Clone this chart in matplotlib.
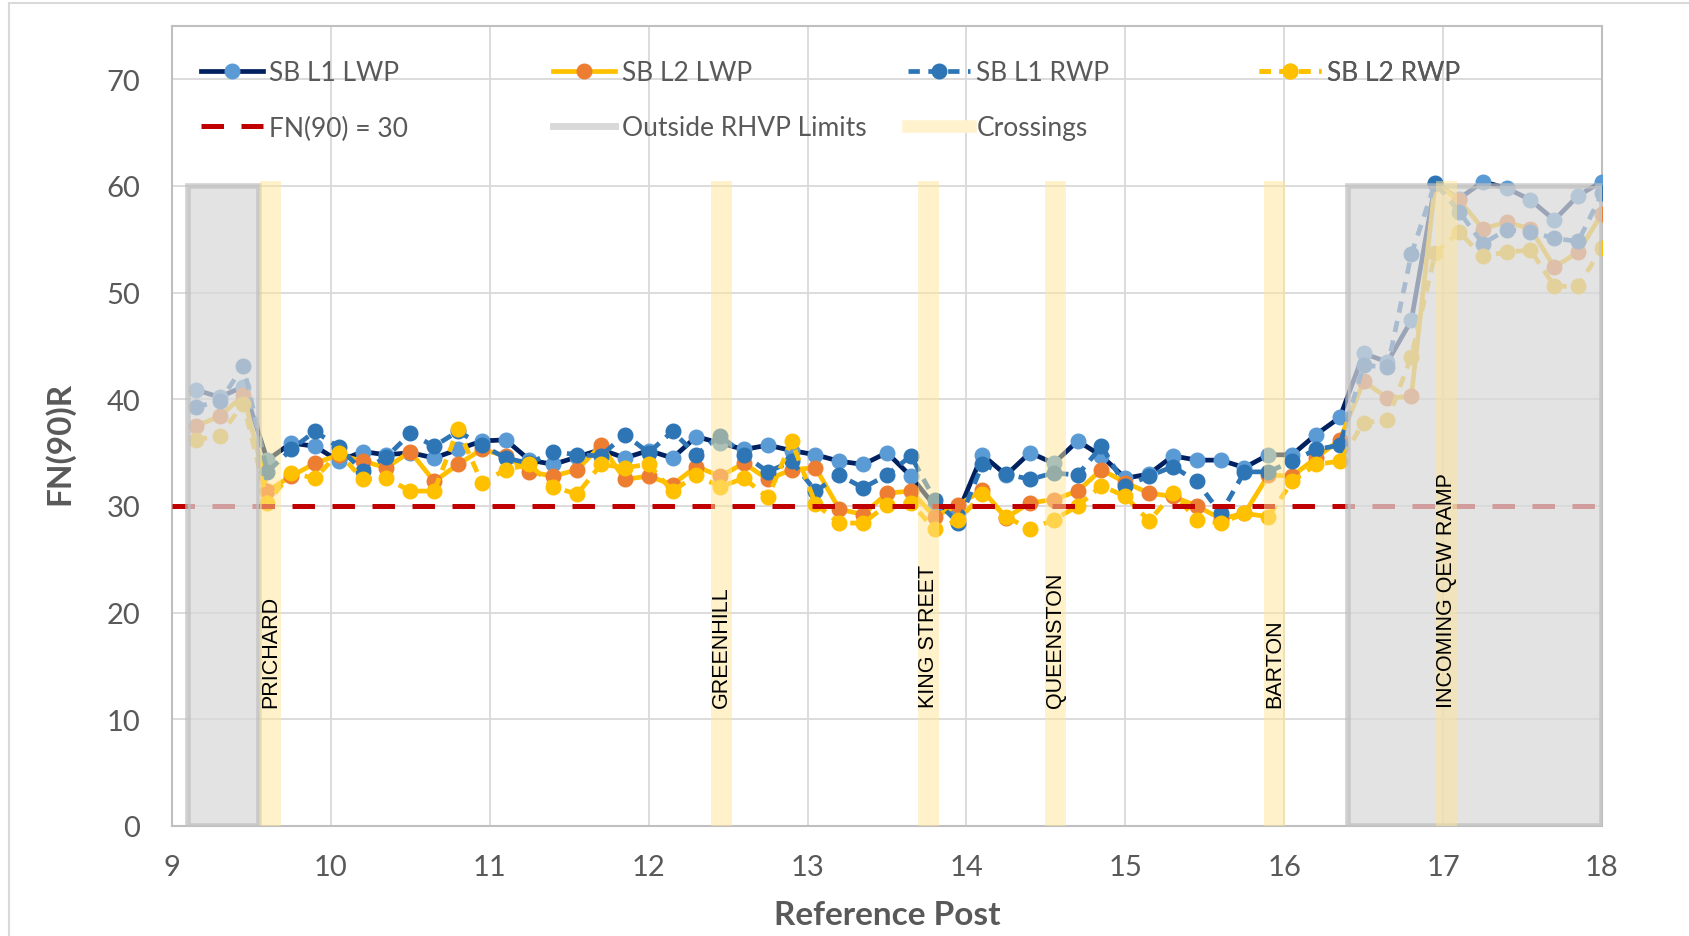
import matplotlib
matplotlib.use("Agg")
import matplotlib.pyplot as plt
from matplotlib.lines import Line2D
from matplotlib.patches import Rectangle

# reference posts of the survey points
ref_post = [9.15, 9.30, 9.45, 9.60, 9.75, 9.90, 10.05, 10.20, 10.35, 10.50,
            10.65, 10.80, 10.95, 11.10, 11.25, 11.40, 11.55, 11.70, 11.85, 12.00,
            12.15, 12.30, 12.45, 12.60, 12.75, 12.90, 13.05, 13.20, 13.35, 13.50,
            13.65, 13.80, 13.95, 14.10, 14.25, 14.40, 14.55, 14.70, 14.85, 15.00,
            15.15, 15.30, 15.45, 15.60, 15.75, 15.90, 16.05, 16.20, 16.35, 16.50,
            16.65, 16.80, 16.95, 17.10, 17.25, 17.40, 17.55, 17.70, 17.85, 18.00]

sb_l1_lwp = [40.9, 40.2, 41.2, 34.3, 35.9, 35.6, 34.2, 35.1, 34.8, 35.0,
             34.5, 35.3, 36.1, 36.2, 34.3, 33.9, 34.6, 35.3, 34.5, 35.2,
             34.5, 36.5, 35.9, 35.3, 35.7, 35.2, 34.8, 34.2, 33.9, 35.0,
             32.8, 30.0, 29.5, 34.8, 32.9, 35.0, 34.0, 36.1, 34.7, 32.6,
             33.0, 34.7, 34.3, 34.3, 33.6, 34.8, 34.8, 36.7, 38.3, 44.3,
             43.5, 47.4, 60.2, 58.8, 60.4, 59.8, 58.7, 56.8, 59.1, 60.4]

sb_l2_lwp = [37.5, 38.4, 40.4, 31.4, 32.8, 34.0, 34.8, 34.2, 33.6, 35.1,
             32.3, 33.9, 35.3, 34.7, 33.2, 32.8, 33.4, 35.7, 32.5, 32.8,
             32.0, 33.7, 32.8, 34.0, 32.5, 33.4, 33.6, 29.7, 29.2, 31.2,
             31.4, 29.0, 30.1, 31.5, 28.9, 30.3, 30.6, 31.4, 33.4, 32.2,
             31.2, 30.9, 30.0, 28.8, 29.3, 32.9, 32.8, 34.5, 36.2, 41.7,
             40.1, 40.3, 60.2, 58.7, 56.0, 56.6, 56.0, 52.4, 53.8, 57.4]

sb_l1_rwp = [39.3, 39.8, 43.1, 33.2, 35.3, 37.0, 35.5, 33.3, 34.6, 36.8,
             35.6, 37.0, 35.7, 34.5, 34.0, 35.1, 34.8, 34.7, 36.7, 35.0,
             37.0, 34.8, 36.6, 34.8, 33.2, 34.2, 31.4, 32.9, 31.7, 32.9,
             34.7, 30.6, 28.4, 33.9, 33.0, 32.5, 33.1, 32.9, 35.6, 31.9,
             32.8, 33.7, 32.3, 29.3, 33.2, 33.2, 34.2, 35.3, 35.7, 43.2,
             43.0, 53.6, 60.3, 57.6, 54.6, 55.9, 55.7, 55.1, 54.8, 59.3]

sb_l2_rwp = [36.2, 36.6, 39.6, 30.3, 33.1, 32.6, 35.0, 32.5, 32.6, 31.4,
             31.4, 37.2, 32.2, 33.4, 33.9, 31.8, 31.1, 33.9, 33.6, 33.9,
             31.4, 32.9, 31.8, 32.6, 30.8, 36.1, 30.2, 28.4, 28.4, 30.1,
             30.3, 27.8, 28.7, 31.1, 29.0, 27.8, 28.7, 30.0, 31.9, 30.9,
             28.6, 31.2, 28.7, 28.4, 29.3, 29.0, 32.3, 33.9, 34.2, 37.8,
             38.1, 44.0, 53.7, 55.7, 53.4, 53.8, 54.0, 50.6, 50.6, 54.2]

fn_target = 30

# stretches outside the RHVP limits (start, end)
outside_limits = [(9.10, 9.55), (16.40, 18.00)]

crossing_names = ["PRICHARD", "GREENHILL", "KING STREET", "QUEENSTON",
                  "BARTON", "INCOMING QEW RAMP"]
crossing_posts = [9.62, 12.46, 13.76, 14.56, 15.94, 17.02]

grey_txt = "#595959"
font = "Lato"

fig = plt.figure(figsize=(16.9, 9.37), dpi=100)
ax = fig.add_axes([172 / 1690, 1 - 827 / 937, 1430 / 1690, 800 / 937])

lw = 3.4
ms = 10.5
dash = (0, (2.4, 1.8))

ax.plot(ref_post, sb_l1_lwp, color="#002060", lw=lw, marker="o", ms=ms,
        mfc="#5B9BD5", mec="#5B9BD5", zorder=3)
ax.plot(ref_post, sb_l2_lwp, color="#FFC000", lw=lw, marker="o", ms=ms,
        mfc="#ED7D31", mec="#ED7D31", zorder=3)
ax.plot(ref_post, sb_l1_rwp, color="#2E75B6", lw=lw, ls=dash, marker="o", ms=ms,
        mfc="#2E75B6", mec="#2E75B6", zorder=3)
ax.plot(ref_post, sb_l2_rwp, color="#FFC000", lw=lw, ls=dash, marker="o", ms=ms,
        mfc="#FFC000", mec="#FFC000", zorder=3)

ax.axhline(fn_target, color="#C00000", lw=3.6, dashes=(4.5, 3.5), zorder=4)

# shaded stretches sit over the data
for x0, x1 in outside_limits:
    ax.add_patch(Rectangle((x0, 0), x1 - x0, 60, facecolor="#D9D9D9",
                           edgecolor="#BFBFBF", lw=4, alpha=0.72, zorder=5))

ax.bar(crossing_posts, 60.5, width=0.13, color="#FFE699", alpha=0.5, zorder=6)
for name, x in zip(crossing_names, crossing_posts):
    ax.text(x, 11.2, name, rotation=90, ha="center", va="bottom",
            fontsize=15.5, family="Liberation Sans", color="black", zorder=7)

ax.set_xlim(9, 18)
ax.set_ylim(0, 75)
ax.set_xticks(range(9, 19))
ax.set_yticks(range(0, 71, 10))
ax.grid(True, color="#D9D9D9", lw=1.3)
ax.set_axisbelow(True)
for s in ax.spines.values():
    s.set_color("#BFBFBF")
    s.set_linewidth(1.5)

ax.tick_params(axis="both", length=0, labelsize=21, labelcolor=grey_txt)
ax.tick_params(axis="x", pad=20)
ax.tick_params(axis="y", pad=23)
for lab in ax.get_xticklabels() + ax.get_yticklabels():
    lab.set_family(font)

ax.set_xlabel("Reference Post", fontsize=24, fontweight="bold", color=grey_txt,
              family=font)
ax.set_ylabel("FN(90)R", fontsize=24, fontweight="bold", color=grey_txt,
              family=font)
ax.xaxis.set_label_coords(0.5, -0.092)
ax.yaxis.set_label_coords(-0.068, 0.48)

# legend: four columns placed by hand
h_l1lwp = Line2D([], [], color="#002060", lw=lw, marker="o", ms=ms,
                 mfc="#5B9BD5", mec="#5B9BD5")
h_l2lwp = Line2D([], [], color="#FFC000", lw=lw, marker="o", ms=ms,
                 mfc="#ED7D31", mec="#ED7D31")
h_l1rwp = Line2D([], [], color="#2E75B6", lw=lw, ls=dash, marker="o", ms=ms,
                 mfc="#2E75B6", mec="#2E75B6")
h_l2rwp = Line2D([], [], color="#FFC000", lw=lw, ls=dash, marker="o", ms=ms,
                 mfc="#FFC000", mec="#FFC000")
h_fn = Line2D([], [], color="#C00000", lw=3.6, dashes=(4.5, 3.5))
h_out = Line2D([], [], color="#D9D9D9", lw=5)
h_cross = Line2D([], [], color="#FFF2CC", lw=9)

columns = [
    (9.18, [h_l1lwp, h_fn], ["SB L1 LWP", "FN(90) = 30"]),
    (11.40, [h_l2lwp, h_out], ["SB L2 LWP", "Outside RHVP Limits"]),
    (13.63, [h_l1rwp, h_cross], ["SB L1 RWP", "Crossings"]),
    (15.84, [h_l2rwp], ["SB L2 RWP"]),
]
for x, hs, labels in columns:
    leg = ax.legend(hs, labels, loc="upper left", bbox_to_anchor=(x, 71.8),
                    bbox_transform=ax.transData, frameon=False,
                    prop={"family": font, "size": 19}, labelcolor=grey_txt,
                    handlelength=2.35, handletextpad=0.25, borderpad=0,
                    borderaxespad=0, labelspacing=1.15)
    leg.set_zorder(8)
    ax.add_artist(leg)

fig.patches.append(Rectangle((9 / 1690, -0.5), 2, 1.5 - 4 / 937, fill=False,
                             edgecolor="#D9D9D9", lw=1.5,
                             transform=fig.transFigure, figure=fig))

fig.savefig("out.png", dpi=100)
